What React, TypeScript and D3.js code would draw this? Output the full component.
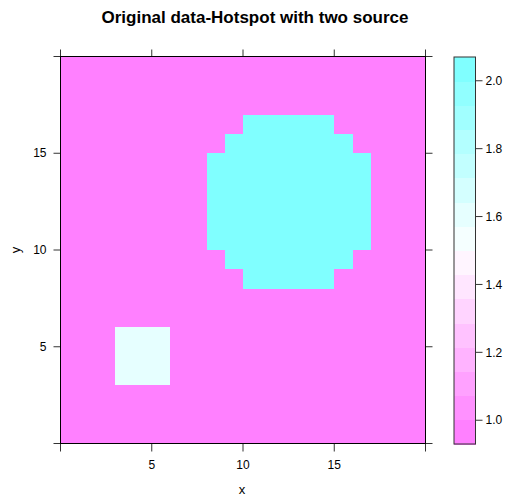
import React from "react";
import * as d3 from "d3";

// Cell values on a 20 x 20 grid (cell [x, x+1] x [y, y+1]).
// Each character indexes into zLevels. Rows listed from y = 19 down to y = 0.
const zLevels = [1.0, 1.6, 2.0];
const gridRows = [
  "00000000000000000000", // y 19
  "00000000000000000000", // y 18
  "00000000000000000000", // y 17
  "00000000002222200000", // y 16
  "00000000022222220000", // y 15
  "00000000222222222000", // y 14
  "00000000222222222000", // y 13
  "00000000222222222000", // y 12
  "00000000222222222000", // y 11
  "00000000222222222000", // y 10
  "00000000022222220000", // y 9
  "00000000002222200000", // y 8
  "00000000000000000000", // y 7
  "00000000000000000000", // y 6
  "00011100000000000000", // y 5
  "00011100000000000000", // y 4
  "00011100000000000000", // y 3
  "00000000000000000000", // y 2
  "00000000000000000000", // y 1
  "00000000000000000000", // y 0
];

const axisTicks = [0, 5, 10, 15, 20];
const axisLabels = [5, 10, 15];
const colorTicks = [1.0, 1.2, 1.4, 1.6, 1.8, 2.0];
const titleText = "Original data-Hotspot with two source";

const W = 507;
const H = 499;
const plot = { left: 60.5, right: 425.5, top: 56.5, bottom: 443.5 };
const key = { left: 454, right: 475.5, top: 57, bottom: 444 };
const FONT = "'Liberation Sans', Arial, sans-serif";

// reversed cm.colors(100): magenta -> white -> cyan
function regionPalette(n: number): string[] {
  const half = n / 2;
  const out: string[] = [];
  for (let j = 1; j <= n; j++) {
    if (j <= half) {
      const s = 0.5 - (j - 1) * (0.49 / (half - 1));
      out.push(d3.rgb(255, Math.round(255 * (1 - s)), 255).formatHex());
    } else {
      const s = ((j - half) * 0.5) / half;
      out.push(d3.rgb(Math.round(255 * (1 - s)), 255, 255).formatHex());
    }
  }
  return out;
}

export default function App() {
  const cells: { x: number; y: number; z: number }[] = [];
  gridRows.forEach((row, r) => {
    const y = gridRows.length - 1 - r;
    row.split("").forEach((ch, x) => cells.push({ x, y, z: zLevels[+ch] }));
  });

  const zExtent = d3.extent(cells, (d) => d.z) as [number, number];
  const span = zExtent[1] - zExtent[0];
  const zLim: [number, number] = [zExtent[0] - 0.07 * span, zExtent[1] + 0.07 * span];
  const nBands = 16;
  const breaks = d3.range(nBands + 1).map((i) => zLim[0] + (i * (zLim[1] - zLim[0])) / nBands);
  const pal = regionPalette(100);
  const bandColors = d3
    .range(nBands)
    .map((i) => pal[Math.round((i * 99) / (nBands - 1))]);
  const colorOf = (z: number) => {
    let i = d3.bisectLeft(breaks, z) - 1;
    i = Math.max(0, Math.min(nBands - 1, i));
    return bandColors[i];
  };

  const xScale = d3.scaleLinear().domain([0, 20]).range([plot.left, plot.right]);
  const yScale = d3.scaleLinear().domain([0, 20]).range([plot.bottom, plot.top]);
  const kScale = d3.scaleLinear().domain(zLim).range([key.bottom, key.top]);

  const tickCol = "#333";

  return (
    <svg
      width={W}
      height={H}
      style={{ position: "absolute", left: 0, top: 0, background: "#fff" }}
      fontFamily={FONT}
    >
      <text
        x={255}
        y={23}
        textAnchor="middle"
        fontSize={17}
        fontWeight="bold"
        fill="#000"
      >
        {titleText}
      </text>

      <g shapeRendering="crispEdges">
        {cells.map((c, i) => (
          <rect
            key={i}
            x={xScale(c.x)}
            y={yScale(c.y + 1)}
            width={xScale(c.x + 1) - xScale(c.x) + 0.5}
            height={yScale(c.y) - yScale(c.y + 1) + 0.5}
            fill={colorOf(c.z)}
          />
        ))}
      </g>

      {/* ticks on all four sides */}
      <g stroke={tickCol} strokeWidth={1}>
        {axisTicks.map((t) => (
          <g key={"t" + t}>
            <line x1={xScale(t)} x2={xScale(t)} y1={plot.bottom} y2={plot.bottom + 8} />
            <line x1={xScale(t)} x2={xScale(t)} y1={plot.top} y2={plot.top - 7} />
            <line x1={plot.left} x2={plot.left - 7} y1={yScale(t)} y2={yScale(t)} />
            <line x1={plot.right} x2={plot.right + 7} y1={yScale(t)} y2={yScale(t)} />
          </g>
        ))}
      </g>
      <rect
        x={plot.left}
        y={plot.top}
        width={plot.right - plot.left}
        height={plot.bottom - plot.top}
        fill="none"
        stroke="#000"
        strokeWidth={1}
      />

      <g fontSize={12} fill="#000">
        {axisLabels.map((t) => (
          <text key={"xl" + t} x={xScale(t)} y={469} textAnchor="middle">
            {t}
          </text>
        ))}
        {axisLabels.map((t) => (
          <text
            key={"yl" + t}
            x={plot.left - 14}
            y={yScale(t)}
            dy="0.35em"
            textAnchor="end"
          >
            {t}
          </text>
        ))}
      </g>
      <text x={242} y={494} textAnchor="middle" fontSize={13} fill="#000">
        x
      </text>
      <text
        transform={`translate(20,250) rotate(-90)`}
        textAnchor="middle"
        fontSize={13}
        fill="#000"
      >
        y
      </text>

      {/* colour key */}
      <g shapeRendering="crispEdges">
        {bandColors.map((c, i) => (
          <rect
            key={"k" + i}
            x={key.left}
            y={kScale(breaks[i + 1])}
            width={key.right - key.left}
            height={kScale(breaks[i]) - kScale(breaks[i + 1]) + 0.5}
            fill={c}
          />
        ))}
      </g>
      <rect
        x={key.left}
        y={key.top}
        width={key.right - key.left}
        height={key.bottom - key.top}
        fill="none"
        stroke="#333"
        strokeWidth={1}
      />
      <g stroke={tickCol}>
        {colorTicks.map((t) => (
          <line key={"kt" + t} x1={key.right} x2={key.right + 7} y1={kScale(t)} y2={kScale(t)} />
        ))}
      </g>
      <g fontSize={12} fill="#000">
        {colorTicks.map((t) => (
          <text key={"ktl" + t} x={key.right + 10} y={kScale(t)} dy="0.35em">
            {t.toFixed(1)}
          </text>
        ))}
      </g>
    </svg>
  );
}
